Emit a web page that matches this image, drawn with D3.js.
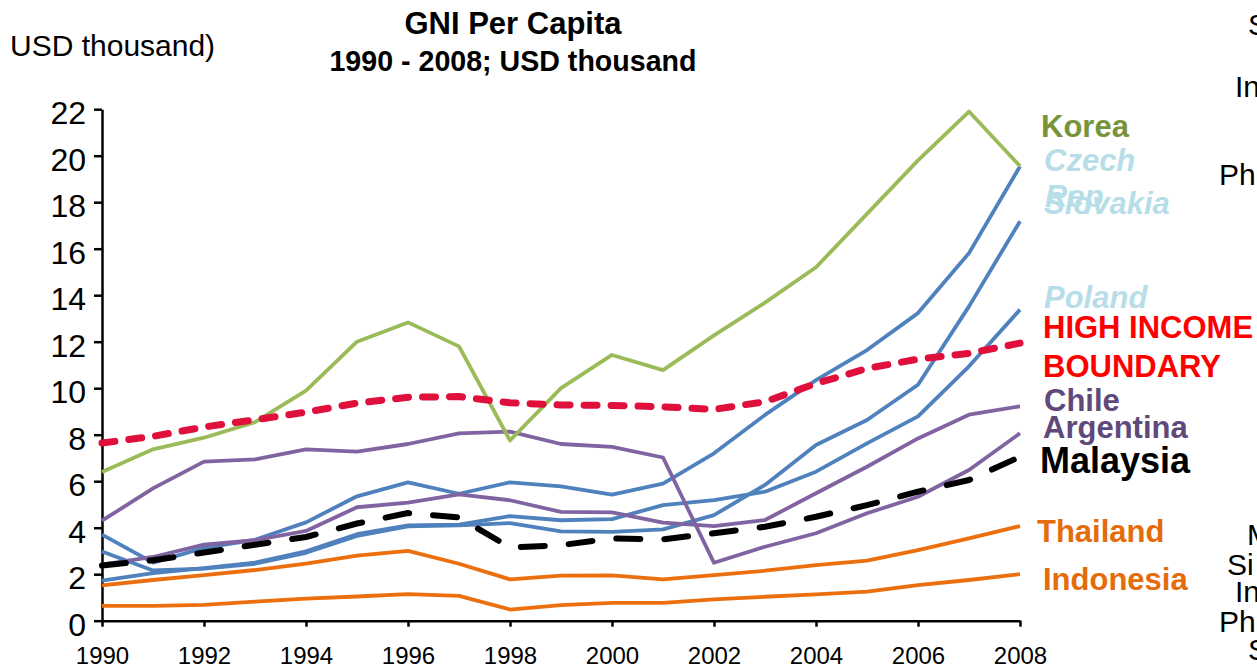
<!DOCTYPE html>
<html>
<head>
<meta charset="utf-8">
<script src="https://cdn.jsdelivr.net/npm/d3@7"></script>
<style>
  body { margin: 0; background: #fff; }
  svg { display: block; }
  text { font-family: "Liberation Sans", Arial, sans-serif; }
</style>
</head>
<body>
<div id="chart"></div>
<script>
// GNI per capita, USD thousand
var years = [1990, 1991, 1992, 1993, 1994, 1995, 1996, 1997, 1998, 1999,
             2000, 2001, 2002, 2003, 2004, 2005, 2006, 2007, 2008];

var korea      = [6.4, 7.37, 7.87, 8.54, 9.9, 12.0, 12.83, 11.8, 7.75, 10.0, 11.43, 10.78, 12.27, 13.68, 15.2, 17.5, 19.8, 21.9, 19.55];
var highIncome = [7.64, 7.93, 8.33, 8.64, 8.97, 9.36, 9.61, 9.64, 9.37, 9.28, 9.26, 9.2, 9.09, 9.42, 10.2, 10.85, 11.25, 11.5, 11.94];
var czech      = [3.7, 2.5, 3.13, 3.48, 4.23, 5.35, 5.95, 5.46, 5.95, 5.78, 5.42, 5.9, 7.2, 8.85, 10.35, 11.64, 13.23, 15.81, 19.54];
var slovakia   = [2.98, 2.16, 2.24, 2.45, 2.92, 3.65, 4.06, 4.1, 4.2, 3.84, 3.82, 3.93, 4.54, 5.84, 7.56, 8.63, 10.15, 13.52, 17.18];
var poland     = [1.72, 2.05, 2.26, 2.5, 2.98, 3.72, 4.1, 4.13, 4.5, 4.32, 4.37, 4.97, 5.19, 5.55, 6.41, 7.63, 8.79, 10.94, 13.38];
var argentina  = [4.3, 5.69, 6.84, 6.94, 7.37, 7.27, 7.6, 8.06, 8.13, 7.6, 7.48, 7.02, 2.49, 3.18, 3.76, 4.62, 5.33, 6.48, 8.06];
var chile      = [2.41, 2.74, 3.27, 3.46, 3.86, 4.88, 5.08, 5.43, 5.18, 4.68, 4.66, 4.22, 4.07, 4.33, 5.48, 6.62, 7.84, 8.86, 9.22];
var malaysia   = [2.37, 2.6, 2.93, 3.27, 3.6, 4.18, 4.63, 4.44, 3.15, 3.25, 3.54, 3.5, 3.76, 4.04, 4.47, 4.97, 5.55, 6.05, 7.05];
var thailand   = [1.52, 1.75, 1.96, 2.18, 2.45, 2.8, 3.0, 2.45, 1.78, 1.94, 1.95, 1.78, 1.96, 2.15, 2.39, 2.58, 3.04, 3.54, 4.07];
var indonesia  = [0.64, 0.64, 0.68, 0.82, 0.95, 1.04, 1.14, 1.07, 0.48, 0.67, 0.77, 0.77, 0.92, 1.03, 1.13, 1.25, 1.53, 1.75, 2.0];

var yTicks = [0, 2, 4, 6, 8, 10, 12, 14, 16, 18, 20, 22];
var xTicks = [1990, 1992, 1994, 1996, 1998, 2000, 2002, 2004, 2006, 2008];

var title    = "GNI Per Capita";
var subtitle = "1990 - 2008; USD thousand";
var unitText = "USD thousand)";

var svg = d3.select("#chart").append("svg")
  .attr("width", 1257)
  .attr("height", 670);

var x = d3.scaleLinear().domain([1990, 2008]).range([102, 1020]);
var y = d3.scaleLinear().domain([0, 22]).range([620.7, 109.2]);

// titles
svg.append("text").attr("x", 513).attr("y", 34).attr("text-anchor", "middle")
  .attr("font-size", 31).attr("font-weight", "bold").text(title);
svg.append("text").attr("x", 513).attr("y", 71).attr("text-anchor", "middle")
  .attr("font-size", 28.6).attr("font-weight", "bold").text(subtitle);
svg.append("text").attr("x", 10).attr("y", 56).attr("font-size", 30).text(unitText);

// axes
var yAxis = d3.axisLeft(y).tickValues(yTicks).tickSize(8).tickSizeOuter(0).tickPadding(8);
var xAxis = d3.axisBottom(x).tickValues(xTicks).tickSize(6).tickSizeOuter(0).tickPadding(20)
  .tickFormat(d3.format("d"));

var gy = svg.append("g").attr("transform", "translate(102,0)").call(yAxis);
gy.selectAll("text").attr("font-size", 32).attr("dy", "0.45em");
var gx = svg.append("g").attr("transform", "translate(0,620.7)").call(xAxis);
gx.selectAll("text").attr("font-size", 24);

[gx, gy].forEach(function(g){
  g.attr("font-family", null);
  g.selectAll("path, line").attr("stroke", "#000").attr("stroke-width", 2.5);
  g.selectAll("text").attr("fill", "#000");
});

// lines
var line = d3.line()
  .x(function(d, i){ return x(years[i]); })
  .y(function(d){ return y(d); });

var series = [
  {values: poland,    color: "#4F81BD", width: 3.8},
  {values: slovakia,  color: "#4F81BD", width: 3.8},
  {values: czech,     color: "#4F81BD", width: 3.8},
  {values: chile,     color: "#8064A2", width: 3.8},
  {values: argentina, color: "#8064A2", width: 3.8},
  {values: indonesia, color: "#EC6F0E", width: 3.8},
  {values: thailand,  color: "#EC6F0E", width: 3.8},
  {values: korea,     color: "#9BBB59", width: 3.8},
  {values: highIncome, color: "#E0103C", width: 7, dash: "13,14"},
  {values: malaysia,  color: "#000000", width: 6, dash: "24,24"}
];

svg.append("g").selectAll("path").data(series).enter()
  .append("path")
  .attr("d", function(d){ return line(d.values); })
  .attr("fill", "none")
  .attr("stroke", function(d){ return d.color; })
  .attr("stroke-width", function(d){ return d.width; })
  .attr("stroke-dasharray", function(d){ return d.dash || null; })
  .attr("stroke-linecap", function(d){ return d.dash ? "round" : "butt"; })
  .attr("stroke-linejoin", "round");

// series labels on the right
var labels = [
  {t: "Korea",       x: 1041, y: 137, c: "#77933C"},
  {t: "Czech",       x: 1044, y: 171, c: "#B7DEE8", it: true},
  {t: "Rep",         x: 1045, y: 207, c: "#B7DEE8", it: true},
  {t: "Slovakia",    x: 1044, y: 214, c: "#B7DEE8", it: true},
  {t: "Poland",      x: 1044, y: 308, c: "#B7DEE8", it: true},
  {t: "HIGH INCOME", x: 1043, y: 338, c: "#FF0000"},
  {t: "BOUNDARY",    x: 1043, y: 377, c: "#FF0000"},
  {t: "Chile",       x: 1044, y: 411, c: "#5F497A"},
  {t: "Argentina",   x: 1043, y: 438, c: "#5F497A"},
  {t: "Malaysia",    x: 1040, y: 473, c: "#000000", s: 36},
  {t: "Thailand",    x: 1037, y: 542, c: "#E46C0A"},
  {t: "Indonesia",   x: 1043, y: 590, c: "#E46C0A"}
];

svg.append("g").selectAll("text").data(labels).enter()
  .append("text")
  .attr("x", function(d){ return d.x; })
  .attr("y", function(d){ return d.y; })
  .attr("font-size", function(d){ return d.s || 31; })
  .attr("font-weight", "bold")
  .attr("font-style", function(d){ return d.it ? "italic" : null; })
  .attr("fill", function(d){ return d.c; })
  .text(function(d){ return d.t; });

// clipped text from the neighbouring panel
var sideText = [
  {t: "S", x: 1248, y: 35}, {t: "In", x: 1235, y: 97}, {t: "Ph", x: 1219, y: 185},
  {t: "M", x: 1247, y: 545}, {t: "Si", x: 1227, y: 575}, {t: "In", x: 1235, y: 602},
  {t: "Ph", x: 1219, y: 632}, {t: "S", x: 1248, y: 660}
];
svg.append("g").selectAll("text").data(sideText).enter()
  .append("text")
  .attr("x", function(d){ return d.x; })
  .attr("y", function(d){ return d.y; })
  .attr("font-size", 30)
  .text(function(d){ return d.t; });
</script>
</body>
</html>
